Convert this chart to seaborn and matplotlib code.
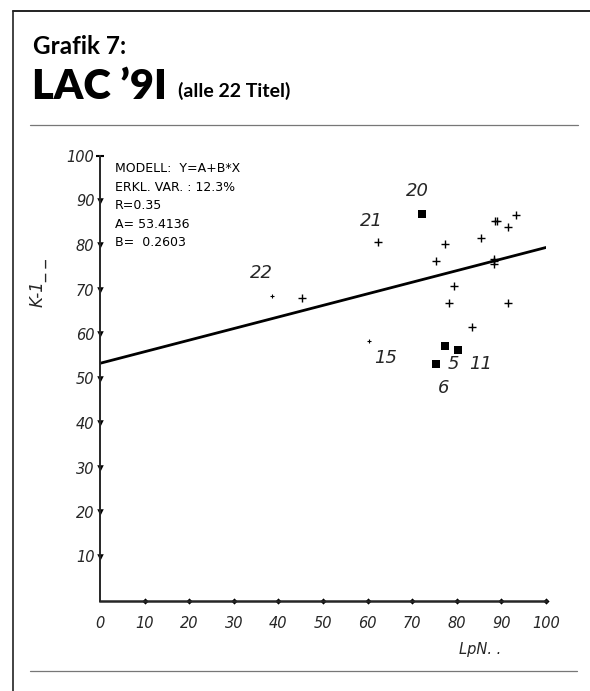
import matplotlib
matplotlib.use("Agg")
import matplotlib.pyplot as plt
from matplotlib.lines import Line2D
import seaborn as sns
import pandas as pd

# values (LpN vs K-1, 22 titles)
lpn = [38.5, 45.4, 62.3, 72.1, 77.4, 75.3, 85.4, 88.6, 89.1, 93.3, 91.4,
       88.3, 88.3, 88.3, 79.4, 78.3, 91.4, 83.4, 60.4, 77.3, 80.3, 75.3]
k1 = [68.5, 68.2, 80.6, 86.9, 80.2, 76.4, 81.6, 85.4, 85.5, 86.7, 84.1,
      76.9, 76.3, 75.7, 70.8, 66.9, 66.9, 61.5, 58.4, 57.3, 56.3, 53.3]
marks = ["small", "plus", "plus", "box", "plus", "plus", "plus", "plus", "plus", "plus", "plus",
         "plus", "plus", "plus", "plus", "plus", "plus", "plus", "small", "box", "box", "box"]
titles = ["22", "", "21", "20", "", "", "", "", "", "", "",
          "", "", "", "", "", "", "", "15", "5", "11", "6"]

coef_a = 53.4136
coef_b = 0.2603
stats = ["MODELL:  Y=A+B*X", "ERKL. VAR. : 12.3%", "R=0.35",
         "A= 53.4136", "B=  0.2603"]

x_ticks = [0, 10, 20, 30, 40, 50, 60, 70, 80, 90, 100]
y_ticks = [10, 20, 30, 40, 50, 60, 70, 80, 90, 100]

# label offsets in pixels (dx, dy)
label_off = {"22": (-10, 23), "21": (-6, 21), "20": (-4, 23), "15": (16, -17),
             "5": (9, -18), "11": (22, -14), "6": (8, -24)}

df = pd.DataFrame({"lpn": lpn, "k1": k1, "mark": marks, "title": titles})

sns.set_style("white")
plt.rcParams["font.family"] = ["DejaVu Sans"]

W, H = 590, 691
fig = plt.figure(figsize=(5.9, 6.91), dpi=100)


def fx(px):
    return px / W


def fy(py):
    return 1 - py / H


ax = fig.add_axes([fx(100), fy(601), 446 / W, 445 / H])

# regression line from the printed coefficients
sns.lineplot(x=[0, 100], y=[coef_a, coef_a + coef_b * 100], ax=ax,
             color="black", linewidth=2.0)

sns.scatterplot(data=df[df.mark == "plus"], x="lpn", y="k1", ax=ax, marker="+",
                s=40, color="black", linewidth=1.0)
sns.scatterplot(data=df[df.mark == "small"], x="lpn", y="k1", ax=ax, marker="+",
                s=12, color="black", linewidth=0.8)
sns.scatterplot(data=df[df.mark == "box"], x="lpn", y="k1", ax=ax, marker="s",
                s=34, color="black", linewidth=0)

for _, r in df[df.title != ""].iterrows():
    ax.annotate(r.title, (r.lpn, r.k1), xytext=label_off[r.title],
                textcoords="offset pixels", ha="center", va="center",
                fontsize=13, fontstyle="italic")

# axis tick marks like the plotter: arrows on y, dots on x
sns.scatterplot(x=[0] * (len(y_ticks) - 1), y=y_ticks[:-1], ax=ax, marker="v",
                s=22, color="black", linewidth=0, clip_on=False)
sns.scatterplot(x=[0], y=y_ticks[-1:], ax=ax, marker="_", s=40, color="black",
                linewidth=1.5, clip_on=False)
sns.scatterplot(x=x_ticks[1:], y=[0] * (len(x_ticks) - 1), ax=ax, marker="D",
                s=10, color="black", linewidth=0, clip_on=False)

ax.set_xlim(0, 100)
ax.set_ylim(0, 100)
ax.set_xticks(x_ticks)
ax.set_yticks(y_ticks)
ax.tick_params(length=0, labelsize=10.5)
ax.tick_params(axis="x", pad=11)
ax.tick_params(axis="y", pad=4)
for lab in ax.get_xticklabels() + ax.get_yticklabels():
    lab.set_fontstyle("italic")
for s in ["top", "right"]:
    ax.spines[s].set_visible(False)
ax.spines["left"].set_linewidth(1.4)
ax.spines["bottom"].set_linewidth(1.8)

ax.set_xlabel("LpN. .", fontsize=10.5, fontstyle="italic")
ax.xaxis.set_label_coords(0.852, -0.092)
ax.set_ylabel("K-1_ _", fontsize=12, fontstyle="italic")
ax.yaxis.set_label_coords(-0.119, 0.715)

ax.text(0.034, 0.9865, "\n".join(stats), transform=ax.transAxes, va="top",
        ha="left", fontsize=9, linespacing=1.55, color="black")

# header and page frame
fig.text(fx(33), fy(47), "Grafik 7:", fontsize=17.5, fontweight="bold",
         family="Lato", va="center", color="black")
fig.text(fx(32), fy(87), "LAC \u20199I", fontsize=30, fontweight="heavy",
         family="Lato", va="center", color="black")
fig.text(fx(178), fy(91), "(alle 22 Titel)", fontsize=14, fontweight="bold",
         family="Lato", va="center", color="black")

fig.add_artist(Line2D([fx(13), fx(13)], [fy(11), fy(691)], color="#222222", lw=1.2))
fig.add_artist(Line2D([fx(13), fx(590)], [fy(11), fy(11)], color="#222222", lw=1.4))
fig.add_artist(Line2D([fx(30), fx(578)], [fy(125), fy(125)], color="#777777", lw=0.9))
fig.add_artist(Line2D([fx(30), fx(577)], [fy(671), fy(671)], color="#777777", lw=0.9))

fig.savefig("out.png", dpi=100)
